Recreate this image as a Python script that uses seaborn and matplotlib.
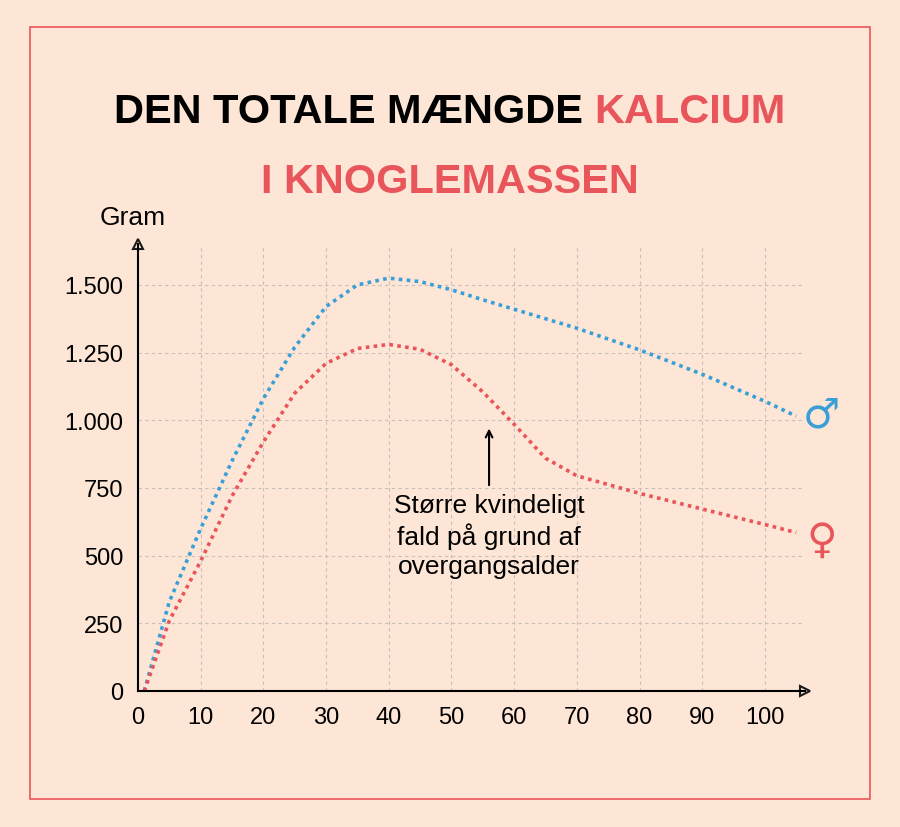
import matplotlib
matplotlib.use("Agg")
import matplotlib.pyplot as plt
import seaborn as sns
import pandas as pd
from matplotlib.patches import Rectangle

age_m = [1, 5, 10, 15, 20, 25, 30, 35, 40, 45, 50, 55, 60, 70, 80, 90, 100, 105]
male = [0, 330, 600, 850, 1080, 1270, 1420, 1500, 1525, 1512, 1482, 1445, 1410, 1340, 1260, 1170, 1070, 1015]
age_f = [1, 5, 10, 15, 20, 25, 30, 35, 40, 45, 50, 55, 60, 65, 70, 80, 90, 100, 105]
female = [0, 260, 480, 720, 920, 1100, 1210, 1265, 1280, 1262, 1205, 1105, 985, 860, 795, 730, 672, 615, 585]
xticks = list(range(0, 101, 10))
yticks = [0, 250, 500, 750, 1000, 1250, 1500]
ylabels = ["0", "250", "500", "750", "1.000", "1.250", "1.500"]

BG = "#fde6d6"; RED = "#e8555a"; BLUE = "#3a9fd6"
sns.set_theme(style="white")
plt.rcParams['font.family'] = ['Liberation Sans', 'DejaVu Sans']

fig = plt.figure(figsize=(9, 8.28), dpi=100, facecolor=BG)
fig.patches.append(Rectangle((30/900, 28/828), 840/900, 772/828, transform=fig.transFigure,
                             fill=False, edgecolor=RED, lw=1.2))
ax = fig.add_axes([138/900, 136/828, (805-138)/900, (692-245)/828])
ax.set_facecolor(BG)
df_m = pd.DataFrame({"x": age_m, "y": male})
df_f = pd.DataFrame({"x": age_f, "y": female})
sns.lineplot(data=df_m, x="x", y="y", ax=ax, color=BLUE, lw=2.6, linestyle=(0, (1, 1.2)))
sns.lineplot(data=df_f, x="x", y="y", ax=ax, color=RED, lw=2.6, linestyle=(0, (1, 1.2)))
ax.set_xlim(0, 106.4); ax.set_ylim(0, 1651)
ax.set_xticks(xticks); ax.set_yticks(yticks)
ax.set_yticklabels(ylabels)
ax.grid(True, color="#c8c0b8", ls=(0, (3, 3)), lw=0.8)
for s in ["top", "right"]:
    ax.spines[s].set_visible(False)
for s in ["left", "bottom"]:
    ax.spines[s].set_color("black"); ax.spines[s].set_linewidth(1.5)
ax.tick_params(axis="both", direction="inout", length=14, width=1.5, color="black",
               labelsize=17, labelcolor="black")
ax.set_xlabel(""); ax.set_ylabel("")
ax.plot(1, 0, ">k", transform=ax.transAxes, clip_on=False, ms=7, mfc="none", mew=1.5)
ax.plot(0, 1, "^k", transform=ax.transAxes, clip_on=False, ms=7, mfc="none", mew=1.5)
fig.text(100/900, 1-218/828, "Gram", fontsize=19, va="center", color="black")
ax.annotate("", xy=(56, 980), xytext=(56, 750),
            arrowprops=dict(arrowstyle="->", color="black", lw=1.5))
ax.text(56, 575, "Større kvindeligt\nfald på grund af\novergangsalder", ha="center", va="center",
        fontsize=19, linespacing=1.25, color="black")
ax.text(109, 1020, "♂", color=BLUE, fontsize=30, ha="center", va="center", family="DejaVu Sans", clip_on=False)
ax.text(109, 560, "♀", color=RED, fontsize=30, ha="center", va="center", family="DejaVu Sans", clip_on=False)

tkw = dict(fontweight="bold", va="center", family=["Liberation Sans", "DejaVu Sans"])
r = fig.canvas.get_renderer()
size = 30
t1 = fig.text(0, 1-112/828, "DEN TOTALE MÆNGDE ", ha="left", color="black", fontsize=size, **tkw)
t2 = fig.text(0, 1-112/828, "KALCIUM", color=RED, ha="left", fontsize=size, **tkw)
w = t1.get_window_extent(r).width + t2.get_window_extent(r).width
size = size * 670 / w
t1.set_fontsize(size); t2.set_fontsize(size)
w1 = t1.get_window_extent(r).width
w2 = t2.get_window_extent(r).width
start = (900 - w1 - w2) / 2
t1.set_x(start/900)
t2.set_x((start + w1)/900)
fig.text(450/900, 1-182/828, "I KNOGLEMASSEN", color=RED, ha="center", fontsize=size, **tkw)
fig.savefig("out.png", dpi=100, facecolor=BG)
